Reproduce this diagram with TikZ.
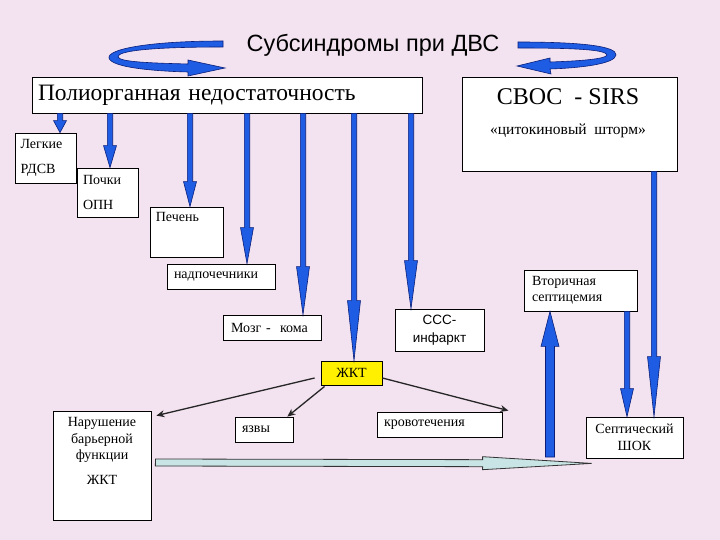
\documentclass[tikz,border=0pt]{standalone}
\usepackage{fontspec}
\setmainfont{Liberation Serif}
\newfontfamily\arialfont{Liberation Sans}
\usetikzlibrary{arrows.meta, calc}
\definecolor{slidepink}{RGB}{243,226,240}
\definecolor{arrowblue}{RGB}{30,92,228}
\definecolor{arrowedge}{RGB}{10,30,120}
\definecolor{gutyellow}{RGB}{255,240,0}
\definecolor{barcyan}{RGB}{200,228,228}

\tikzset{
  box/.style={draw=black, fill=white, line width=0.8pt, inner sep=0pt},
  txt/.style={font=\fontsize{14}{16.5}\selectfont},
  bigtxt/.style={font=\fontsize{23.5}{27}\selectfont},
  sanstxt/.style={font=\arialfont\fontsize{13.5}{18}\selectfont},
  blockarrow/.style={fill=arrowblue, draw=arrowedge, line width=0.6pt},
  bararrow/.style={fill=barcyan, draw=black!80, line width=0.8pt},
  thinarrow/.style={draw=black!85, line width=1.3pt, -{Stealth[length=8pt,width=7pt]}}
}

% block arrow: [style] start, tip, shaft half width, head half width, head length
\newcommand{\blockarrow}[6][blockarrow]{%
  \coordinate (ba-s) at (#2);
  \coordinate (ba-t) at (#3);
  \coordinate (ba-b) at ($(ba-t)!#6!(ba-s)$);
  \filldraw[#1] ($(ba-s)!#4!90:(ba-t)$) -- ($(ba-b)!#4!90:(ba-t)$)
    -- ($(ba-b)!#5!90:(ba-t)$) -- (ba-t) -- ($(ba-b)!#5!-90:(ba-t)$)
    -- ($(ba-b)!#4!-90:(ba-t)$) -- ($(ba-s)!#4!-90:(ba-t)$) -- cycle;
}

\begin{document}
\begin{tikzpicture}[x=1pt, y=-1pt]
  \fill[slidepink] (0,0) rectangle (720,540);
  \useasboundingbox (0,0) rectangle (720,540);

  % title and the two curled arrows
  \node[font=\arialfont\fontsize{23.5}{27}\selectfont] (title) at (373,45) {Субсиндромы при ДВС};
  \filldraw[blockarrow] (223,41) .. controls (150,41) and (107,49) .. (109,58)
    .. controls (111,67) and (150,71) .. (188,72) -- (188,76) -- (225,68) -- (188,60) -- (188,64)
    .. controls (150,63) and (120,62) .. (118,57) .. controls (117,51) and (150,47) .. (223,47) -- cycle;
  \filldraw[blockarrow] (518,42) .. controls (580,42) and (617,46) .. (616,55)
    .. controls (615,64) and (580,68) .. (550,69) -- (551,74) -- (517,66) -- (550,58) -- (550,62)
    .. controls (580,61) and (606,59) .. (607,55) .. controls (606,50) and (580,48) .. (518,48) -- cycle;

  % top boxes
  \node[box, bigtxt, text width=378pt, inner xsep=6pt, minimum height=36pt, align=left] (poly) at (227,95) {Полиорганная недостаточность};
  \node[box, minimum width=215pt, minimum height=94pt] (sirs) at (569.5,124) {};
  \node[font=\fontsize{24}{28}\selectfont] (sirs-t) at (568,97) {СВОС\ \ - SIRS};
  \node[font=\fontsize{15.5}{18}\selectfont] (sirs-s) at (568,131) {«цитокиновый\ \ шторм»};

  % organ boxes
  \node[box, txt, text width=51pt, inner xsep=5pt, minimum height=50pt, align=left] (legkie) at (46,158) {Легкие\\[9pt]РДСВ};
  \node[box, txt, text width=49pt, inner xsep=6pt, minimum height=49pt, align=left] (pochki) at (107.5,192.5) {Почки\\[9pt]ОПН};
  \node[box, minimum width=73pt, minimum height=50pt,
    label={[txt, anchor=north west, inner sep=6pt]north west:Печень}] (pechen) at (186.5,232) {};
  \node[box, txt, text width=94pt, inner xsep=7pt, minimum height=25pt, align=left] (nadp) at (221,276.5) {надпочечники};
  \node[box, txt, text width=82pt, inner xsep=8pt, minimum height=25pt, align=left] (mozg) at (272,327.5) {Мозг -\ \ кома};
  \node[box, sanstxt, minimum width=89pt, minimum height=42pt, align=center] (sss) at (439.5,330) {ССС-\\инфаркт};
  \node[box, txt, text width=97pt, inner xsep=8pt, minimum height=41pt, align=left] (vtor) at (580.5,290.5) {Вторичная\\септицемия};
  \node[box, txt, fill=gutyellow, minimum width=61pt, minimum height=24pt] (zhkt) at (351.5,373) {ЖКТ};

  % bottom boxes
  \node[box, minimum width=98pt, minimum height=109pt,
    label={[txt, anchor=north, align=center, inner sep=0pt, yshift=-7pt]north:Нарушение\\барьерной\\функции\\[8pt]ЖКТ}] (narush) at (102,465.5) {};
  \node[box, txt, text width=44pt, inner xsep=7pt, minimum height=25pt, align=left] (yazvy) at (264,429.5) {язвы};
  \node[box, txt, text width=111pt, inner xsep=7pt, minimum height=25pt, align=left] (krov) at (439.5,424.5) {кровотечения};
  \node[box, txt, minimum width=97pt, minimum height=41pt, align=center] (septic) at (634.5,437.5) {Септический\\ШОК};

  % barrier arrow to shock
  \blockarrow[bararrow]{[shift={(4pt,3pt)}]narush.east}{[shift={(6pt,-5pt)}]septic.south west}{3.5pt}{6.5pt}{109pt}

  % arrows from multiorgan failure
  \blockarrow{poly.south -| 60,0}{legkie.north -| 60,0}{2.7pt}{6.5pt}{12pt}
  \blockarrow{poly.south -| 110,0}{pochki.north -| 110,0}{2.7pt}{6.5pt}{22pt}
  \blockarrow{poly.south -| 190,0}{pechen.north -| 190,0}{2.7pt}{6.5pt}{25pt}
  \blockarrow{poly.south -| 247,0}{nadp.north -| 247,0}{2.7pt}{6.5pt}{36pt}
  \blockarrow{poly.south -| 303,0}{mozg.north -| 303,0}{2.7pt}{6.5pt}{48pt}
  \blockarrow{poly.south -| 354,0}{zhkt.north -| 354,0}{2.7pt}{6.5pt}{60pt}
  \blockarrow{poly.south -| 411,0}{sss.north -| 411,0}{2.7pt}{6.5pt}{48pt}

  % arrows to septic shock
  \blockarrow{sirs.south -| 654,0}{septic.north -| 654,0}{2.7pt}{6.5pt}{60pt}
  \blockarrow{vtor.south -| 627,0}{septic.north -| 627,0}{2.7pt}{6.5pt}{28pt}
  \coordinate (sepsis-base) at (550,457);
  \blockarrow{sepsis-base}{vtor.south -| 550,0}{4.5pt}{9pt}{35pt}

  % gut arrows
  \draw[thinarrow] ([shift={(-6pt,-5pt)}]zhkt.west) -- ([shift={(5pt,-5pt)}]narush.north east);
  \draw[thinarrow] ([shift={(4pt,-1pt)}]zhkt.south west) -- ([xshift=-6pt]yazvy.north east);
  \draw[thinarrow] ([yshift=-5pt]zhkt.east) -- ([shift={(6pt,1pt)}]krov.north east);
\end{tikzpicture}
\end{document}
